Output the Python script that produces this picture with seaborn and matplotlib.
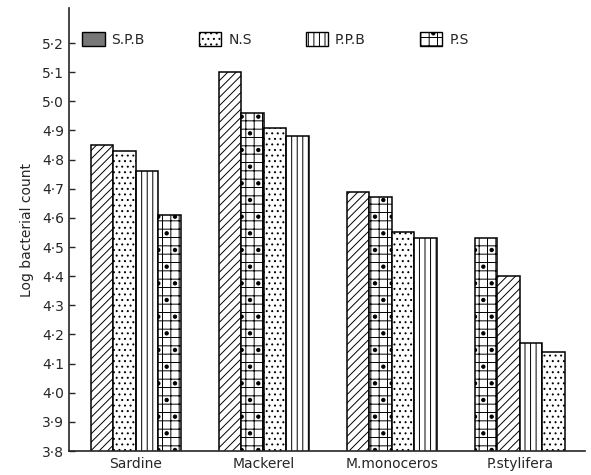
import numpy as np
import pandas as pd
import seaborn as sns
import matplotlib.pyplot as plt
from matplotlib.patches import Patch

# values
species = ['Sardine', 'Mackerel', 'M.monoceros', 'P.stylifera']
treatments = ['S.P.B', 'N.S', 'P.P.B', 'P.S']

spb = [4.85, 5.10, 4.69, 4.40]
ns = [4.83, 4.91, 4.55, 4.14]
ppb = [4.76, 4.88, 4.53, 4.17]
ps = [4.61, 4.96, 4.67, 4.53]

yticks = [3.8, 3.9, 4.0, 4.1, 4.2, 4.3, 4.4, 4.5, 4.6, 4.7, 4.8, 4.9, 5.0, 5.1, 5.2]

hatches = {'S.P.B': '////', 'N.S': '...', 'P.P.B': '|||', 'P.S': '++.'}

rows = []
for t, vals in zip(treatments, [spb, ns, ppb, ps]):
    for s, v in zip(species, vals):
        rows.append({'species': s, 'treatment': t, 'value': v})
df = pd.DataFrame(rows)
# bars are drawn tallest first inside every group
df['position'] = df.groupby('species')['value'].rank(ascending=False, method='first').astype(int)

sns.set_style('ticks')
plt.rcParams['font.family'] = ['DejaVu Sans']
plt.rcParams['hatch.linewidth'] = 0.7

fig = plt.figure(figsize=(5.91, 4.75), dpi=100)
ax = fig.add_axes([0.117, 0.0505, 0.873, 0.9325])

sns.barplot(data=df, x='species', y='value', hue='position', hue_order=[1, 2, 3, 4],
            order=species, palette=['white'] * 4, edgecolor='black', linewidth=1.1,
            width=0.7, legend=False, ax=ax)

for pos, cont in zip([1, 2, 3, 4], ax.containers):
    for s, bar in zip(species, cont):
        t = df[(df.species == s) & (df.position == pos)].treatment.iloc[0]
        bar.set_hatch(hatches[t])

ax.set_ylim(3.8, 5.32)
ax.set_xlim(-0.52, 3.51)
ax.set_yticks(yticks)
ax.set_yticklabels([f'{v:.1f}'.replace('.', '\u00b7') for v in yticks], fontsize=10)
ax.tick_params(axis='y', direction='in', length=4, width=1)
ax.tick_params(axis='x', length=0, labelsize=10, pad=4)
ax.set_xlabel('')
ax.set_ylabel('Log bacterial count', fontsize=10, labelpad=6)
sns.despine(ax=ax)
ax.spines['left'].set_linewidth(1.2)
ax.spines['bottom'].set_linewidth(1.2)

handles = [Patch(facecolor='#777777', edgecolor='black', label='S.P.B'),
           Patch(facecolor='white', edgecolor='black', hatch='...', label='N.S'),
           Patch(facecolor='white', edgecolor='black', hatch='|||', label='P.P.B'),
           Patch(facecolor='white', edgecolor='black', hatch='++.', label='P.S')]
ax.legend(handles=handles, ncol=4, loc='lower left', mode='expand',
          bbox_to_anchor=(0.015, 0.9, 0.77, 0.06), borderaxespad=0, frameon=False,
          fontsize=10, handlelength=1.6, handleheight=1.1, handletextpad=0.5)

fig.savefig('out.png', dpi=100)
